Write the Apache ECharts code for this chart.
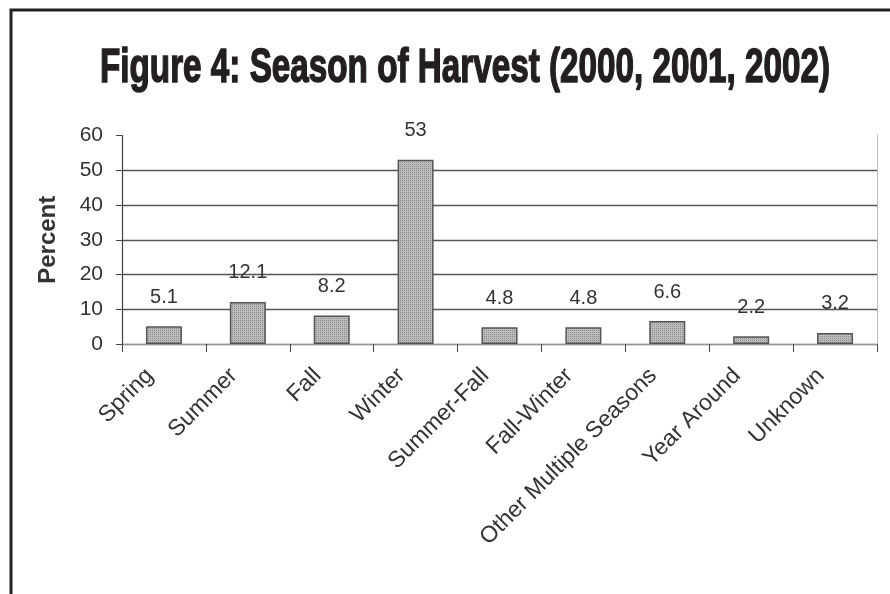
<!DOCTYPE html>
<html>
<head>
<meta charset="utf-8">
<script src="https://cdn.jsdelivr.net/npm/echarts@6/dist/echarts.min.js"></script>
<style>
  html, body { margin: 0; padding: 0; background: #fff; }
  #chart { width: 890px; height: 594px; }
</style>
</head>
<body>
<div id="chart"></div>
<script>
// Season of harvest, share of respondents (%)
const categories = ['Spring', 'Summer', 'Fall', 'Winter', 'Summer-Fall', 'Fall-Winter',
  'Other Multiple Seasons', 'Year Around', 'Unknown'];
const percentValues = [5.1, 12.1, 8.2, 53, 4.8, 4.8, 6.6, 2.2, 3.2];
const yTicks = [0, 10, 20, 30, 40, 50, 60];
const titleText = 'Figure 4: Season of Harvest (2000, 2001, 2002)';

// small stippled tile used as the bar fill
function stippleTile() {
  const c = document.createElement('canvas');
  c.width = 4; c.height = 4;
  const g = c.getContext('2d');
  g.fillStyle = '#bdbdbd';
  g.fillRect(0, 0, 4, 4);
  g.fillStyle = '#8a8a8a';
  g.fillRect(0, 0, 1, 1); g.fillRect(2, 2, 1, 1);
  g.fillRect(2, 0, 1, 1); g.fillRect(0, 2, 1, 1);
  return c;
}

// squeeze the bold title into a condensed look of a fixed width
const titleFont = 'bold 48px "Liberation Sans", Arial, sans-serif';
const titleWidth = 730;
const measureCtx = document.createElement('canvas').getContext('2d');
measureCtx.font = titleFont;
const titleScaleX = titleWidth / measureCtx.measureText(titleText).width;

const chart = echarts.init(document.getElementById('chart'), null, { renderer: 'canvas' });
const textColor = '#333';
const font = 'Liberation Sans, Arial, sans-serif';

chart.setOption({
  animation: false,
  backgroundColor: '#fff',
  graphic: [{
    type: 'rect', silent: true,
    shape: { x: 11, y: 10, width: 900, height: 600 },
    style: { fill: 'none', stroke: '#222', lineWidth: 3 }
  }, {
    type: 'text', silent: true,
    x: 465, y: 69, scaleX: titleScaleX,
    style: {
      text: titleText, font: titleFont, fill: '#231f20',
      stroke: '#231f20', lineWidth: 1.5,
      align: 'center', verticalAlign: 'middle'
    }
  }],
  grid: { left: 122, right: 13, top: 135.5, bottom: 250, containLabel: false },
  xAxis: [{
    type: 'category', data: categories, boundaryGap: true,
    axisLine: { lineStyle: { color: '#444', width: 1.2 } },
    axisTick: { show: true, alignWithLabel: false, length: 8, lineStyle: { color: '#444' } },
    axisLabel: {
      interval: 0, rotate: 45, fontSize: 23, color: textColor, fontFamily: font,
      margin: 14, padding: [0, 20, 0, 0]
    }
  }, {
    type: 'category', data: categories, position: 'top',
    axisLine: { lineStyle: { color: '#aaa', type: 'dotted' } },
    axisTick: { show: false }, axisLabel: { show: false }
  }],
  yAxis: [{
    type: 'value', min: 0, max: 60, interval: 10,
    name: 'Percent', nameLocation: 'middle', nameGap: 62, nameRotate: 90,
    nameTextStyle: { fontSize: 24, fontWeight: 'bold', color: textColor, fontFamily: font },
    axisLine: { show: true, lineStyle: { color: '#444', width: 1.2 } },
    axisTick: { show: true, length: 6, lineStyle: { color: '#444' } },
    axisLabel: {
      fontSize: 21, color: textColor, fontFamily: font, margin: 19,
      formatter: v => (yTicks.indexOf(v) >= 0 ? String(v) : '')
    },
    splitLine: { lineStyle: { color: ['#555', '#555', '#555', '#555', '#555', '#555', 'transparent'], width: 1.3 } }
  }, {
    type: 'value', min: 0, max: 60, interval: 10, position: 'right',
    axisLine: { show: true, lineStyle: { color: '#aaa', type: 'dotted' } },
    axisTick: { show: false }, axisLabel: { show: false }, splitLine: { show: false }
  }],
  series: [{
    type: 'bar', data: percentValues, barWidth: 36,
    itemStyle: { color: { image: stippleTile(), repeat: 'repeat' }, borderColor: '#555', borderWidth: 1.5 },
    label: { show: true, position: 'top', distance: 19, fontSize: 20, color: textColor, fontFamily: font }
  }]
});
</script>
</body>
</html>
